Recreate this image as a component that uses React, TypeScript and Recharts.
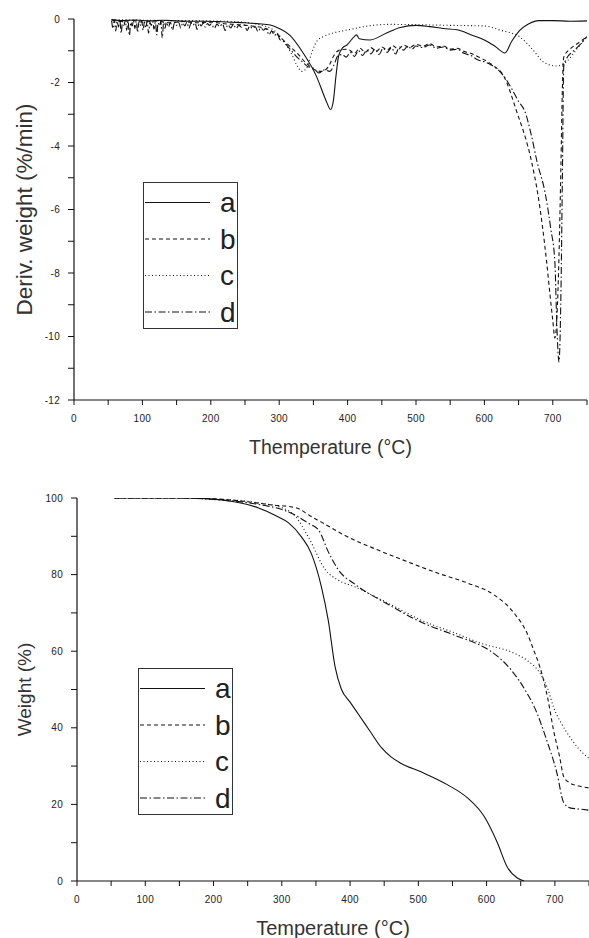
import { LineChart, Line, XAxis, YAxis, Legend } from 'recharts';

// DTG curves: [temperature °C, deriv. weight %/min]
const dtgA: [number, number][] = [
  [55, -0.02], [70, -0.05], [90, -0.03], [110, -0.06], [130, -0.04], [150, -0.06], [170, -0.07],
  [190, -0.07], [210, -0.08], [230, -0.1], [250, -0.12], [270, -0.15], [287, -0.19], [300, -0.3],
  [315, -0.5], [335, -1.07], [355, -1.83], [364, -2.33], [370, -2.65], [375, -2.85], [379, -2.6],
  [383, -1.8], [387, -1.15], [393, -0.9], [399, -0.82], [407, -0.62], [413, -0.5], [417, -0.62],
  [433, -0.66], [457, -0.44], [477, -0.27], [500, -0.2], [520, -0.24], [540, -0.3], [560, -0.34],
  [583, -0.52], [600, -0.66], [615, -0.85], [630, -1.07], [640, -0.7], [652, -0.35], [665, -0.15],
  [680, -0.05], [700, -0.05], [725, -0.07], [750, -0.06],
];
const dtgB: [number, number][] = [
  [55, -0.03], [70, -0.08], [85, -0.04], [100, -0.1], [120, -0.06], [140, -0.12], [160, -0.08],
  [180, -0.12], [200, -0.1], [220, -0.15], [240, -0.18], [260, -0.22], [280, -0.3], [295, -0.45],
  [310, -0.75], [325, -1.05], [340, -1.4], [352, -1.6], [362, -1.65], [372, -1.5], [380, -1.15],
  [388, -0.98], [400, -0.95], [410, -1.08], [418, -0.92], [426, -1.05], [434, -0.9], [442, -1.02],
  [450, -0.88], [458, -0.98], [466, -0.84], [474, -0.95], [482, -0.82], [490, -0.9], [500, -0.8],
  [510, -0.86], [520, -0.78], [530, -0.88], [540, -0.85], [550, -0.95], [560, -0.92], [570, -1.02],
  [580, -1.08], [590, -1.18], [605, -1.35], [615, -1.5], [627, -1.75], [647, -2.9], [669, -4.5],
  [678, -5.5], [691, -7.65], [696, -8.7], [700, -9.5], [703, -10.05], [706, -9.4], [709, -7.5],
  [712, -4.5], [714, -2.2], [716, -1.2], [725, -0.95], [738, -0.75], [750, -0.55],
];
const dtgC: [number, number][] = [
  [55, -0.02], [80, -0.03], [110, -0.04], [140, -0.05], [170, -0.05], [200, -0.06], [230, -0.08],
  [255, -0.12], [275, -0.2], [292, -0.35], [305, -0.65], [318, -1.1], [327, -1.5], [333, -1.65],
  [340, -1.55], [347, -1.1], [355, -0.7], [365, -0.55], [377, -0.45], [392, -0.38], [410, -0.3],
  [430, -0.22], [460, -0.17], [500, -0.18], [550, -0.2], [600, -0.22], [623, -0.35], [652, -0.57],
  [670, -0.95], [686, -1.35], [696, -1.45], [705, -1.48], [713, -1.45], [722, -1.3], [735, -0.95],
  [750, -0.55],
];
const dtgD: [number, number][] = [
  [55, -0.05], [57, -0.3], [59, -0.02], [61, -0.38], [63, -0.06], [65, -0.25], [67, -0.03], [69, -0.45],
  [71, -0.08], [73, -0.2], [75, -0.04], [77, -0.35], [79, -0.06], [81, -0.52], [83, -0.1], [85, -0.22],
  [87, -0.05], [89, -0.3], [91, -0.07], [93, -0.42], [95, -0.08], [97, -0.2], [99, -0.05], [101, -0.35],
  [103, -0.1], [105, -0.28], [107, -0.06], [109, -0.45], [111, -0.1], [113, -0.2], [115, -0.08],
  [117, -0.32], [119, -0.1], [121, -0.5], [123, -0.12], [125, -0.22], [127, -0.08], [129, -0.6],
  [131, -0.12], [133, -0.3], [135, -0.1], [138, -0.25], [141, -0.1], [144, -0.35], [147, -0.12],
  [150, -0.2], [153, -0.1], [156, -0.28], [159, -0.12], [162, -0.22], [165, -0.1], [168, -0.3],
  [171, -0.13], [174, -0.2], [177, -0.12], [180, -0.33], [183, -0.14], [186, -0.22], [189, -0.12],
  [192, -0.26], [195, -0.14], [198, -0.2], [201, -0.15], [205, -0.3], [209, -0.16], [213, -0.24],
  [217, -0.15], [221, -0.36], [225, -0.18], [229, -0.28], [233, -0.17], [237, -0.3], [241, -0.2],
  [245, -0.26], [249, -0.19], [253, -0.36], [257, -0.22], [261, -0.3], [265, -0.24], [269, -0.4],
  [273, -0.28], [277, -0.35], [281, -0.3], [285, -0.5], [289, -0.38], [293, -0.52], [297, -0.45],
  [301, -0.65], [306, -0.7], [310, -0.8], [318, -1.0], [326, -1.2], [334, -1.35], [342, -1.5],
  [350, -1.55], [358, -1.7], [366, -1.6], [374, -1.65], [380, -1.45], [386, -1.15], [392, -1.12],
  [398, -1.2], [404, -1.05], [410, -1.18], [416, -1.0], [422, -1.15], [428, -0.98], [434, -1.1],
  [440, -0.95], [446, -1.12], [452, -0.92], [458, -1.05], [464, -0.9], [470, -1.1], [476, -0.88],
  [482, -0.98], [488, -0.85], [494, -0.95], [500, -0.85], [510, -0.9], [520, -0.82], [530, -0.92],
  [540, -0.88], [550, -0.98], [560, -0.95], [570, -1.08], [580, -1.15], [590, -1.28], [600, -1.35],
  [610, -1.45], [620, -1.6], [630, -1.85], [640, -2.2], [650, -2.6], [659, -2.9], [668, -3.6],
  [677, -4.5], [689, -5.5], [697, -6.6], [703, -7.65], [706, -9.7], [709, -10.8], [712, -8.5],
  [714, -5.0], [716, -1.5], [720, -1.25], [728, -1.05], [738, -0.85], [750, -0.55],
];

// TGA curves: [temperature °C, weight %]
const tgA: [number, number][] = [
  [55, 100], [100, 100], [150, 100], [200, 99.7], [230, 99], [266, 97.4], [290, 95.5], [310, 93.5],
  [329, 89.8], [343, 85.6], [358, 76.8], [368, 68.1], [378, 56], [387, 50.2], [400, 46.7],
  [412, 43.6], [430, 38.9], [446, 34.8], [460, 32.4], [475, 30.7], [504, 28.5], [543, 25.1],
  [572, 21.7], [597, 16.7], [616, 9.9], [630, 3.7], [645, 0.8], [655, 0],
];
const tgB: [number, number][] = [
  [55, 100], [150, 100], [200, 99.8], [230, 99.4], [260, 98.8], [290, 98.1], [310, 97.8], [325, 97.2],
  [340, 95.5], [358, 93.7], [397, 89.8], [441, 86.4], [485, 83.3], [528, 80.4], [572, 77.8],
  [611, 74.7], [640, 70], [659, 64.8], [669, 60.3], [678, 55.9], [690, 47.3], [698, 39.4],
  [707, 32.4], [713, 27.2], [722, 25.6], [735, 24.8], [750, 24.3],
];
const tgC: [number, number][] = [
  [55, 100], [150, 100], [200, 99.7], [240, 99.3], [270, 98.6], [300, 97.5], [320, 95.2], [339, 89.8],
  [364, 81.2], [382, 78.6], [407, 76.8], [455, 72.6], [504, 68.1], [553, 64.8], [591, 62.1],
  [640, 59.5], [660, 57.5], [678, 54.3], [690, 50], [698, 45.4], [710, 41], [722, 37.6],
  [735, 34.5], [750, 32],
];
const tgD: [number, number][] = [
  [55, 100], [150, 100], [200, 99.6], [240, 99], [270, 98.2], [300, 97], [320, 95.5], [338, 93.5],
  [354, 91.6], [368, 86], [383, 81.2], [407, 77.5], [455, 72.3], [504, 67.6], [553, 64.2],
  [591, 61.5], [606, 60], [636, 55.1], [659, 49.1], [670, 45.4], [688, 36.8], [703, 28.2],
  [713, 20.4], [722, 19.1], [735, 18.8], [750, 18.5],
];

const seriesNames = ['a', 'b', 'c', 'd'];
const dashes = [undefined, '4 3', '1 2.5', '7 2.5 1.5 2.5'];

const tempTicks = [0, 50, 100, 150, 200, 250, 300, 350, 400, 450, 500, 550, 600, 650, 700, 750];
const dtgTicks = [-12, -11, -10, -9, -8, -7, -6, -5, -4, -3, -2, -1, 0];
const tgTicks = [0, 10, 20, 30, 40, 50, 60, 70, 80, 90, 100];

const toPoints = (arr: [number, number][]) => arr.map(([t, v]) => ({ t, v }));

const FONT = '"Liberation Sans", Arial, sans-serif';
const INK = '#111';
const tickStyle = { fontSize: 10, fill: '#222', fontFamily: FONT, letterSpacing: 0.3 };

const xTitle = (text: string, size: number) => (props: any) => {
  const vb = props.viewBox;
  const cx = vb.x + vb.width / 2;
  return (
    <text x={cx} y={vb.y + 47} textAnchor="middle" dominantBaseline="central"
      fontSize={size} fill="#333" fontFamily={FONT}>{text}</text>
  );
};

const yTitle = (text: string, size: number) => (props: any) => {
  const vb = props.viewBox;
  const cx = 24;
  const cy = vb.y + vb.height / 2;
  return (
    <text x={cx} y={cy} transform={`rotate(-90 ${cx} ${cy})`} textAnchor="middle"
      dominantBaseline="central" fontSize={size} fill="#333" fontFamily={FONT}>{text}</text>
  );
};

function LegendBox() {
  return (
    <svg width={96} height={148} style={{ display: 'block' }}>
      <rect x={0.5} y={0.5} width={94} height={146} fill="#fff" stroke="#333" strokeWidth={1} />
      {seriesNames.map((name, i) => {
        const y = 20.5 + i * 36.5;
        return (
          <g key={name}>
            <line x1={2} x2={67} y1={y} y2={y} stroke={INK} strokeWidth={1.2} strokeDasharray={dashes[i]} />
            <text x={77} y={y} dominantBaseline="central" fontSize={28} fill="#222" fontFamily={FONT}>{name}</text>
          </g>
        );
      })}
    </svg>
  );
}

export default function App() {
  const dtg = [dtgA, dtgB, dtgC, dtgD];
  const tg = [tgA, tgB, tgC, tgD];
  return (
    <div style={{ position: 'absolute', left: 0, top: 0, width: 589, height: 938, background: '#fff' }}>
      <div style={{ position: 'absolute', left: 0, top: 0 }}>
        <LineChart width={589} height={460} margin={{ top: 19, right: 2, left: 0, bottom: 0 }}>
          <XAxis type="number" dataKey="t" domain={[0, 750]} ticks={tempTicks} interval={0}
            tickFormatter={(v: number) => (v % 100 === 0 && v <= 700 ? String(v) : '')}
            height={60} tickSize={5} tickMargin={10} tick={tickStyle}
            axisLine={{ stroke: INK, strokeWidth: 1.2 }} tickLine={{ stroke: INK }}
            label={{ content: xTitle('Themperature (°C)', 19.5) }} allowDataOverflow />
          <YAxis type="number" domain={[-12, 0]} ticks={dtgTicks} interval={0} width={74}
            tickFormatter={(v: number) => (v % 2 === 0 ? String(v) : '')}
            tickSize={6} tickMargin={8} tick={tickStyle}
            axisLine={{ stroke: INK, strokeWidth: 1.2 }} tickLine={{ stroke: INK }}
            label={{ content: yTitle('Deriv. weight (%/min)', 22.5) }} allowDataOverflow />
          {dtg.map((arr, i) => (
            <Line key={seriesNames[i]} data={toPoints(arr)} dataKey="v" name={seriesNames[i]}
              type="monotone" stroke={INK} strokeWidth={1.1} strokeDasharray={dashes[i]}
              dot={false} isAnimationActive={false} />
          ))}
          <Legend layout="horizontal" verticalAlign="middle" align="center" content={() => <LegendBox />}
            wrapperStyle={{ position: 'absolute', left: 143, top: 182, width: 96, height: 148 }} />
        </LineChart>
      </div>
      <div style={{ position: 'absolute', left: 0, top: 470 }}>
        <LineChart width={589} height={468} margin={{ top: 28, right: 0, left: 0, bottom: 0 }}>
          <XAxis type="number" dataKey="t" domain={[0, 750]} ticks={tempTicks} interval={0}
            tickFormatter={(v: number) => (v % 100 === 0 && v <= 700 ? String(v) : '')}
            height={57} tickSize={5} tickMargin={10} tick={tickStyle}
            axisLine={{ stroke: INK, strokeWidth: 1.2 }} tickLine={{ stroke: INK }}
            label={{ content: xTitle('Temperature (°C)', 20) }} allowDataOverflow />
          <YAxis type="number" domain={[0, 100]} ticks={tgTicks} interval={0} width={77}
            tickFormatter={(v: number) => (v % 20 === 0 ? String(v) : '')}
            tickSize={6} tickMargin={8} tick={tickStyle}
            axisLine={{ stroke: INK, strokeWidth: 1.2 }} tickLine={{ stroke: INK }}
            label={{ content: yTitle('Weight (%)', 19) }} allowDataOverflow />
          {tg.map((arr, i) => (
            <Line key={seriesNames[i]} data={toPoints(arr)} dataKey="v" name={seriesNames[i]}
              type="monotone" stroke={INK} strokeWidth={1.1} strokeDasharray={dashes[i]}
              dot={false} isAnimationActive={false} />
          ))}
          <Legend layout="horizontal" verticalAlign="middle" align="center" content={() => <LegendBox />}
            wrapperStyle={{ position: 'absolute', left: 138, top: 198, width: 96, height: 148 }} />
        </LineChart>
      </div>
    </div>
  );
}
